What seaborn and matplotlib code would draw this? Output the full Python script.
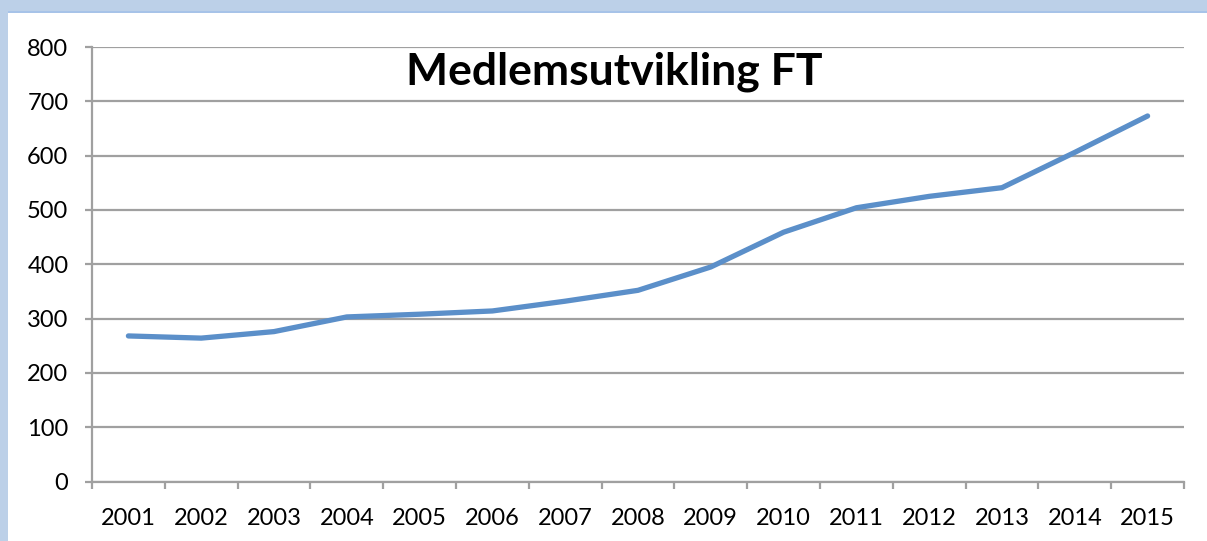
import matplotlib
matplotlib.use("Agg")
import matplotlib.pyplot as plt
import matplotlib.patches as mpatches
from matplotlib.ticker import FixedLocator, NullFormatter
import seaborn as sns
import pandas as pd

years = [2001, 2002, 2003, 2004, 2005, 2006, 2007, 2008,
         2009, 2010, 2011, 2012, 2013, 2014, 2015]
members = [268, 264, 276, 303, 308, 314, 332, 352,
           395, 459, 504, 525, 541, 606, 673]
y_ticks = [0, 100, 200, 300, 400, 500, 600, 700, 800]
title = "Medlemsutvikling FT"

sns.set_theme(style="white")
plt.rcParams['font.family'] = ['Lato', 'DejaVu Sans']

W, H = 1207, 541
fig = plt.figure(figsize=(W / 100, H / 100), dpi=100)
fig.patch.set_facecolor("white")

# light-blue frame (top and left bands)
fig.add_artist(mpatches.Rectangle((0, 1 - 12 / H), 1, 12 / H, transform=fig.transFigure,
                                  facecolor="#BCD0E8", edgecolor="none", zorder=0))
fig.add_artist(mpatches.Rectangle((0, 1 - 13 / H), 1, 1.5 / H, transform=fig.transFigure,
                                  facecolor="#A7C3E8", edgecolor="none", zorder=0))
fig.add_artist(mpatches.Rectangle((0, 0), 8 / W, 1, transform=fig.transFigure,
                                  facecolor="#BCD0E8", edgecolor="none", zorder=0))

ax = fig.add_axes([92 / W, (H - 481.5) / H, (1184 - 92) / W, (481.5 - 47) / H])
ax.set_facecolor("none")

df = pd.DataFrame({"year": years, "members": members})
sns.lineplot(data=df, x="year", y="members", ax=ax, color="#5B8FC9",
             linewidth=3.8, solid_capstyle="round", solid_joinstyle="round", zorder=3)

ax.set_xlim(years[0] - 0.5, years[-1] + 0.5)
ax.set_ylim(y_ticks[0], y_ticks[-1])
ax.set_xlabel("")
ax.set_ylabel("")

ax.set_yticks(y_ticks)
ax.set_yticklabels([str(v) for v in y_ticks])
ax.yaxis.grid(True, color="#A0A0A0", linewidth=1.6)
ax.xaxis.grid(False)

ax.set_xticks(years)
ax.set_xticklabels([str(y) for y in years])
ax.xaxis.set_minor_locator(FixedLocator([y - 0.5 for y in years] + [years[-1] + 0.5]))
ax.xaxis.set_minor_formatter(NullFormatter())
ax.tick_params(axis="x", which="major", length=0, pad=19, labelsize=17, colors="black")
ax.tick_params(axis="x", which="minor", length=5, width=1.6, color="#A0A0A0", bottom=True)
ax.tick_params(axis="y", which="major", length=5, width=1.6, color="#A0A0A0", left=True,
               pad=12, labelsize=17, labelcolor="black")

for s in ["top", "right"]:
    ax.spines[s].set_visible(False)
for s in ["left", "bottom"]:
    ax.spines[s].set_visible(True)
    ax.spines[s].set_color("#A0A0A0")
    ax.spines[s].set_linewidth(1.6)

fig.text(614 / W, 1 - 72 / H, title, ha="center", va="center",
         fontsize=32, fontweight="bold", color="black")

fig.savefig("out.png", dpi=100, facecolor="white")
